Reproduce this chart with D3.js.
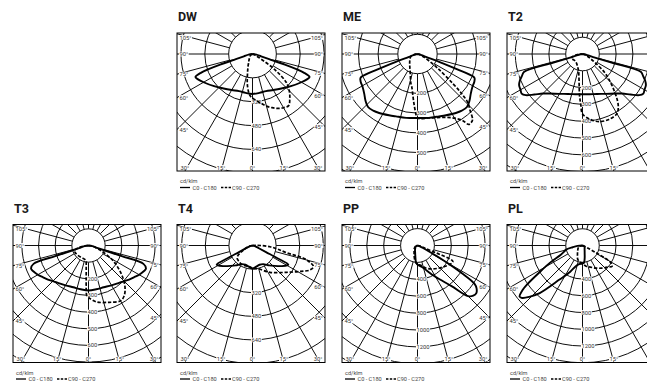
<!DOCTYPE html>
<html>
<head>
<meta charset="utf-8">
<script src="https://cdn.jsdelivr.net/npm/d3@7"></script>
<style>
body { margin: 0; background: #fff; }
svg { display: block; font-family: Roboto, "Liberation Sans", Arial, sans-serif; }
</style>
</head>
<body>
<svg id="chart" width="647" height="382"></svg>
<script>
// Polar light distribution curves, values in cd/klm as [gamma (deg), intensity]
// gamma 0 = straight down. C0/C180 solid, C90/C270 dashed.

var dwC0 = [[0,268],[10,265],[20,265],[30,279],[40,302],[50,336],[60,379],[65,403],[68,413],[70,369],[72,201],[73,121],[75,60],[80,27],[90,0]];
var dwC90 = [[0,295],[5,315],[10,336],[15,362],[20,383],[25,403],[30,416],[35,423],[40,389],[45,349],[50,295],[55,181],[60,60],[65,27],[70,13],[80,5],[90,0]];
var dwC270 = [[0,295],[3,282],[6,255],[10,201],[15,128],[20,87],[25,60],[30,47],[40,30],[50,20],[60,13],[75,7],[90,0]];

var meC0 = [[0,325],[10,329],[19,335],[25,343],[33,357],[38,365],[43,368],[48,355],[53,338],[59,325],[64,321],[67,315],[68,305],[69,220],[70,120],[71,55],[74,22],[80,8],[90,0]];
var meC90 = [[0,325],[10,330],[15,335],[20,343],[25,355],[30,376],[34,406],[36,442],[38,442],[40,435],[43,391],[46,355],[48,305],[50,236],[55,122],[60,61],[65,28],[75,10],[90,0]];
var meC270 = [[0,325],[2,294],[4,254],[6,218],[10,168],[13,151],[20,107],[32,74],[45,56],[60,43],[70,36],[80,20],[90,0]];

var t2C0 = [[0,240],[10,243],[20,253],[30,274],[40,307],[45,333],[50,375],[54,417],[57,432],[60,426],[64,420],[67,405],[70,384],[73,363],[73.6,180],[74.2,72],[76,30],[80,18],[90,0]];
var t2C90 = [[0,357],[7,393],[14,415],[22,420],[30,410],[34,381],[37,345],[41,286],[46,220],[50,173],[55,98],[60,54],[70,24],[90,0]];
var t2C270 = [[0,357],[2,298],[4,250],[6,190],[10,125],[15,95],[21.5,81],[30,68],[45,60],[60,65],[70,74],[78,54],[85,24],[90,0]];

var t3C0 = [[0,270],[10,267],[20,267],[30,276],[40,291],[50,318],[55,333],[60,351],[65,366],[68,372],[71.5,348],[72.3,210],[73,108],[75,48],[80,24],[90,0]];
var t3C90 = [[0,312],[8,342],[20,363],[30,384],[35,372],[40,342],[45,300],[50,252],[55,204],[60,156],[65,102],[70,60],[80,24],[90,0]];
var t3C270 = [[0,312],[2,300],[3,264],[4,198],[6,132],[9,96],[15,87],[30,84],[47,87],[60,90],[70,90],[78,60],[85,24],[90,0]];

var t4C0 = [[0,156],[10,146],[20,139],[30,146],[40,176],[47,203],[55,244],[60,271],[62,275],[63,190],[64,102],[67,47],[75,20],[90,0]];
var t4C90 = [[0,156],[14,163],[33,217],[52,295],[62,373],[67,424],[71,437],[74,400],[76,356],[78,237],[82,170],[86,119],[90,54],[95,20],[100,0]];
var t4C270 = [[0,156],[6,146],[20,146],[30,148],[40,142],[50,136],[55,122],[60,88],[65,61],[70,41],[80,20],[90,0]];

var ppC0 = [[0,225],[14,272],[29,417],[40,627],[45,847],[48,888],[51,896],[54,864],[56,817],[58,615],[60,373],[63,142],[66,59],[70,24],[90,0]];
var ppC180 = [[0,225],[5,201],[10,142],[20,83],[30,59],[45,36],[60,24],[90,0]];
var ppC90 = [[0,225],[10,237],[20,284],[30,320],[40,355],[50,396],[60,444],[65,462],[67,438],[68.5,237],[70,95],[75,47],[80,24],[90,0]];
var ppC270 = [[0,225],[10,178],[20,118],[25,95],[35,71],[50,47],[70,24],[90,0]];

var plC0 = [[0,215],[5,205],[10,150],[15,100],[20,75],[30,50],[45,36],[60,30],[90,0]];
var plC180 = [[0,215],[10,225],[18,259],[25,346],[34,490],[42,764],[46,884],[49,955],[51,967],[53,907],[55,800],[58,609],[62,442],[67,281],[72,227],[76,203],[80,119],[85,60],[90,0]];
var plC90 = [[0,215],[10,251],[20,275],[30,311],[40,353],[50,401],[55,431],[58,407],[60,359],[62,180],[65,60],[70,24],[90,0]];
var plC270 = [[0,215],[10,200],[20,170],[30,120],[40,91],[50,72],[60,60],[75,36],[90,0]];

var titles = ['DW', 'ME', 'T2', 'T3', 'T4', 'PP', 'PL'];
var ringSteps = [160, 100, 100, 100, 160, 200, 200];
var angleTicks = [-105, -90, -75, -60, -45, -30, -15, 0, 15, 30, 45, 60, 75, 90, 105];
var legendLabels = ['C0 - C180', 'C90 - C270'];
var unitLabel = 'cd/klm';

// layout
var W = 647;
var boxW = 148, boxH = 138, cxOff = 75.5, cyOff = 21;
var rowTop = [33, 224.5];
var charts = [
  {x: 177, row: 0, ringPx: 23.85, c0: dwC0, c180: dwC0, c90: dwC90, c270: dwC270},
  {x: 342, row: 0, ringPx: 19.7,  c0: meC0, c180: meC0, c90: meC90, c270: meC270},
  {x: 507, row: 0, ringPx: 16.8,  c0: t2C0, c180: t2C0, c90: t2C90, c270: t2C270},
  {x: 13,  row: 1, ringPx: 16.65, c0: t3C0, c180: t3C0, c90: t3C90, c270: t3C270},
  {x: 177, row: 1, ringPx: 23.6,  c0: t4C0, c180: t4C0, c90: t4C90, c270: t4C270},
  {x: 342, row: 1, ringPx: 16.9,  c0: ppC0, c180: ppC180, c90: ppC90, c270: ppC270},
  {x: 507, row: 1, ringPx: 16.75, c0: plC0, c180: plC180, c90: plC90, c270: plC270}
];

var svg = d3.select('#chart');
svg.append('rect').attr('width', W).attr('height', 382).attr('fill', '#fff');
var defs = svg.append('defs');

// white box behind a small text
function textBg(sel) {
  sel.each(function() {
    var node = this, b = node.getBBox();
    d3.select(node.parentNode).insert('rect', function() { return node; })
      .attr('x', b.x - 0.5).attr('y', b.y + 0.6).attr('width', b.width + 1).attr('height', b.height - 1.2)
      .attr('fill', '#fff');
  });
}

// one closed loop: right half (C0 or C90), then left half (C180 or C270)
function planePoints(rightArr, leftArr) {
  var pts = [];
  rightArr.slice().sort(function(a, b) { return b[0] - a[0]; }).forEach(function(d) {
    pts.push([Math.PI - d[0] * Math.PI / 180, d[1]]);
  });
  leftArr.slice().sort(function(a, b) { return a[0] - b[0]; }).forEach(function(d) {
    if (d[0] === 0) return;
    pts.push([Math.PI + d[0] * Math.PI / 180, d[1]]);
  });
  return pts;
}

charts.forEach(function(c, i) {
  var left = c.x, top = rowTop[c.row];
  var right = left + boxW, bottom = top + boxH;
  var cx = left + cxOff, cy = top + cyOff;
  var step = ringSteps[i];
  var rScale = d3.scaleLinear().domain([0, step]).range([0, c.ringPx]);

  defs.append('clipPath').attr('id', 'clip' + i)
    .append('rect').attr('x', left).attr('y', top).attr('width', boxW).attr('height', boxH);

  // title
  svg.append('text')
    .attr('x', left + 1).attr('y', top - 12)
    .attr('font-size', 12.5).attr('font-weight', 700).attr('fill', '#1a1a1a')
    .text(titles[i]);

  var g = svg.append('g').attr('clip-path', 'url(#clip' + i + ')');

  // radial lines every 15 deg
  d3.range(0, 360, 15).forEach(function(a) {
    var t = a * Math.PI / 180;
    g.append('line')
      .attr('x1', cx + c.ringPx * Math.sin(t)).attr('y1', cy + c.ringPx * Math.cos(t))
      .attr('x2', cx + 260 * Math.sin(t)).attr('y2', cy + 260 * Math.cos(t))
      .attr('stroke', '#000').attr('stroke-width', 0.95);
  });
  // rings
  d3.range(2, 10).forEach(function(k) {
    g.append('circle').attr('cx', cx).attr('cy', cy).attr('r', rScale(step * k))
      .attr('fill', 'none').attr('stroke', '#000').attr('stroke-width', 0.95);
  });
  g.append('circle').attr('cx', cx).attr('cy', cy).attr('r', rScale(step))
    .attr('fill', '#fff').attr('stroke', '#000').attr('stroke-width', 0.95);

  // ring labels along 0 deg
  var lab = g.append('g').attr('font-size', 5.8).attr('fill', '#333');
  d3.range(2, 10).forEach(function(k) {
    var rr = rScale(step * k);
    if (rr > bottom - cy - 6) return;
    lab.append('text').attr('x', cx - 1).attr('y', cy + rr + 2).text(step * k);
  });

  // angle labels where the rays meet the box (only those inside the page)
  angleTicks.forEach(function(a) {
    var t = a * Math.PI / 180, s = Math.sin(t), co = Math.cos(t);
    var tb = co > 1e-6 ? (bottom - cy) / co : Infinity;
    var ts = s > 1e-6 ? (right - cx) / s : (s < -1e-6 ? (left - cx) / s : Infinity);
    var txt = Math.abs(a) + '\u00b0';
    if (tb <= ts) {
      var x = Math.max(left + 7, Math.min(right - 7, cx + tb * s));
      if (x + 6 > W) return;
      lab.append('text').attr('x', x).attr('y', bottom - 1.5)
        .attr('text-anchor', 'middle').text(txt);
    } else {
      var y = Math.max(top + 4.5, Math.min(bottom - 4, cy + ts * co));
      if (s > 0 && right - 2 > W) return;
      lab.append('text')
        .attr('x', s < 0 ? left + 2.5 : right - 2)
        .attr('y', y + 2)
        .attr('text-anchor', s < 0 ? 'start' : 'end').text(txt);
    }
  });
  textBg(lab.selectAll('text'));

  // curves
  var line = d3.lineRadial()
    .angle(function(d) { return d[0]; })
    .radius(function(d) { return rScale(d[1]); })
    .curve(d3.curveCatmullRom.alpha(0.5));
  var cg = g.append('g').attr('transform', 'translate(' + cx + ',' + cy + ')')
    .attr('fill', 'none').attr('stroke', '#000').attr('stroke-linejoin', 'round');
  cg.append('path').attr('d', line(planePoints(c.c90, c.c270)))
    .attr('stroke-width', 1.7).attr('stroke-dasharray', '3.4,1.8');
  cg.append('path').attr('d', line(planePoints(c.c0, c.c180)))
    .attr('stroke-width', 1.9);

  // box
  svg.append('rect').attr('x', left).attr('y', top).attr('width', boxW).attr('height', boxH)
    .attr('fill', 'none').attr('stroke', '#000').attr('stroke-width', 1);

  // legend
  var lg = svg.append('g').attr('font-size', 5.6).attr('fill', '#444');
  lg.append('text').attr('x', left + 3).attr('y', bottom + 12).text(unitLabel);
  var ly = bottom + 16.5;
  lg.append('line').attr('x1', left + 3).attr('x2', left + 13).attr('y1', ly).attr('y2', ly)
    .attr('stroke', '#000').attr('stroke-width', 1.3);
  lg.append('text').attr('x', left + 15.5).attr('y', ly + 2).text(legendLabels[0]);
  lg.append('line').attr('x1', left + 44).attr('x2', left + 54).attr('y1', ly).attr('y2', ly)
    .attr('stroke', '#000').attr('stroke-width', 1.3).attr('stroke-dasharray', '2.4,1.4');
  lg.append('text').attr('x', left + 55).attr('y', ly + 2).text(legendLabels[1]);
});
</script>
</body>
</html>
